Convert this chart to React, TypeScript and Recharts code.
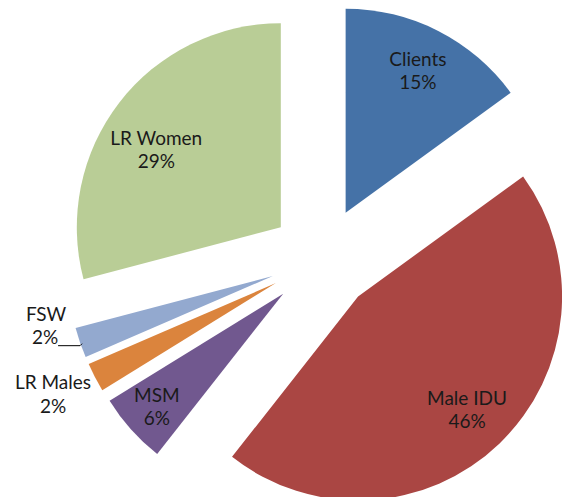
import { PieChart, Pie, Cell, Sector } from 'recharts'

const categories = ['Clients', 'Male IDU', 'MSM', 'LR Males', 'FSW', 'LR Women']
const shares = [15.0, 45.6, 5.6, 2.3, 2.4, 29.1]
const colors = ['#4572A7', '#AA4643', '#71588F', '#DB843D', '#93A9CF', '#B9CD96']

const data = categories.map((name, i) => ({ name, value: shares[i] }))

const RAD = Math.PI / 180
const EXPLODE = 52
const FONT = 'Lato, "Open Sans", sans-serif'
const FONT_SIZE = 19
const TEXT = '#1a1a1a'

// inside labels: fraction of the radius and a small angle nudge (deg)
const insideLabelPos: Record<number, [number, number]> = {
  0: [0.78, 0],
  1: [0.77, 0],
  2: [0.83, 0],
  5: [0.72, 5.6],
}

function ExplodedSlice(props: any) {
  const { cx, cy, outerRadius, startAngle, endAngle, midAngle, index, percent } = props
  const cos = Math.cos(-midAngle * RAD)
  const sin = Math.sin(-midAngle * RAD)
  const ox = cx + EXPLODE * cos
  const oy = cy + EXPLODE * sin
  const pct = `${Math.round(percent * 100)}%`
  const name = categories[index]

  let label: any = null
  if (insideLabelPos[index] != null) {
    const [f, nudge] = insideLabelPos[index]
    const a = -(midAngle + nudge) * RAD
    const r = outerRadius * f
    const lx = ox + r * Math.cos(a)
    const ly = oy + r * Math.sin(a)
    label = (
      <text x={lx} textAnchor="middle" fontFamily={FONT} fontSize={FONT_SIZE} fill={TEXT}>
        <tspan x={lx} y={ly - 12} dominantBaseline="central">{name}</tspan>
        <tspan x={lx} y={ly + 11} dominantBaseline="central">{pct}</tspan>
      </text>
    )
  } else {
    // outside labels, placed off the outer edge of the slice
    const mx = ox + outerRadius * cos
    const my = oy + outerRadius * sin
    if (index === 3) {
      label = (
        <text textAnchor="middle" fontFamily={FONT} fontSize={FONT_SIZE} fill={TEXT}>
          <tspan x={mx - 42} y={my + 4} dominantBaseline="central">{name}</tspan>
          <tspan x={mx - 42} y={my + 28} dominantBaseline="central">{pct}</tspan>
        </text>
      )
    } else {
      label = (
        <g>
          <text textAnchor="middle" fontFamily={FONT} fontSize={FONT_SIZE} fill={TEXT}>
            <tspan x={mx - 34} y={my - 29} dominantBaseline="central">{name}</tspan>
            <tspan x={mx - 35} y={my - 6} dominantBaseline="central">{pct}</tspan>
          </text>
          <polyline
            points={`${mx - 22},${my + 3} ${mx},${my + 3} ${mx + 2},${my + 1}`}
            fill="none"
            stroke="#000"
            strokeWidth={1}
          />
        </g>
      )
    }
  }

  return (
    <g>
      <Sector
        cx={ox}
        cy={oy}
        innerRadius={0}
        outerRadius={outerRadius}
        startAngle={startAngle}
        endAngle={endAngle}
        fill={colors[index]}
        stroke="none"
      />
      {label}
    </g>
  )
}

export default function App() {
  return (
    <div style={{ position: 'absolute', left: 0, top: 0, width: 562, height: 497, background: '#fff' }}>
      <PieChart width={562} height={497} margin={{ top: 0, right: 0, bottom: 0, left: 0 }}>
        <Pie
          data={data}
          dataKey="value"
          nameKey="name"
          cx={322}
          cy={259}
          outerRadius={204}
          startAngle={90}
          endAngle={-270}
          stroke="none"
          labelLine={false}
          label={ExplodedSlice}
          isAnimationActive={false}
        >
          {data.map((d) => (
            <Cell key={d.name} fill="transparent" stroke="none" />
          ))}
        </Pie>
      </PieChart>
    </div>
  )
}
